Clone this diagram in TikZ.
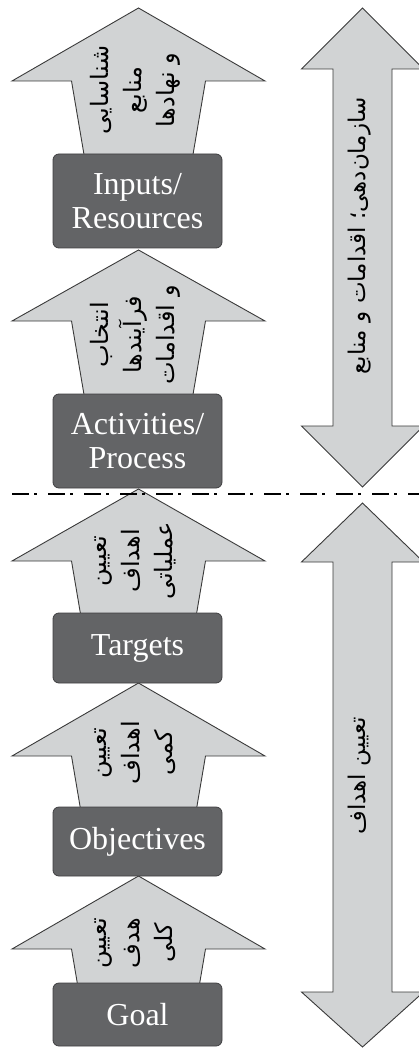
\documentclass[tikz,border=0pt]{standalone}
\usepackage{fontspec}
\setmainfont{Liberation Serif}
\newfontfamily\arabicfont[Script=Arabic]{DejaVu Sans}
\TeXXeTstate=1
\definecolor{arrowfill}{HTML}{D1D3D4}
\definecolor{arrowline}{HTML}{3A3A3A}
\definecolor{boxfill}{HTML}{636466}
\definecolor{boxline}{HTML}{3F3F41}
% one right-to-left line of Persian text
\newcommand\faline[1]{\beginR #1\endR}
% upward block arrow of the left column: tip y, head base y, shaft bottom y
\newcommand\upblock[3]{%
  \pgfmathsetmacro\shafthw{67-0.17*(#3-#2)}%
  \draw[bigarrow] (138.5,#1) -- (265,#2) -- (205.5,#2) -- ({138.5+\shafthw},#3)
    -- ({138.5-\shafthw},#3) -- (71.5,#2) -- (12,#2) -- cycle;}
% double-headed block arrow of the right column: top tip, top base, bottom base, bottom tip
\newcommand\updownblock[4]{%
  \draw[bigarrow] (362.5,#1) -- (423.5,#2) -- (392,#2) -- (392,#3) -- (423.5,#3)
    -- (362.5,#4) -- (301.5,#3) -- (333,#3) -- (333,#2) -- (301.5,#2) -- cycle;}
\begin{document}
\begin{tikzpicture}[x=1pt,y=-1pt,
  stepbox/.style={draw=boxline, fill=boxfill, rounded corners=6pt, line width=0.8pt,
    minimum width=169pt, inner sep=0pt, text=white,
    font=\fontsize{32}{34}\selectfont, align=center},
  bigarrow/.style={draw=arrowline, fill=arrowfill, line width=0.9pt, line join=miter},
  falabel/.style={rotate=90, align=center, inner sep=0pt,
    font=\arabicfont\fontsize{24}{33}\selectfont},
  sidelabel/.style={rotate=90, inner sep=0pt,
    font=\arabicfont\fontsize{23}{28}\selectfont},
  divider/.style={line width=2.5pt, dash pattern=on 17pt off 5pt on 3pt off 11pt}]
\useasboundingbox (0,0) rectangle (419,1048);

% left column arrows (drawn first, boxes sit on their shafts)
\upblock{8}{81}{158}
\upblock{250}{321}{398}
\upblock{489}{561}{617}
\upblock{683}{756}{811}
\upblock{876}{949}{987}

% right column arrows
\updownblock{8}{69}{426}{487}
\updownblock{503}{562}{992}{1047}

% stage boxes
\node[stepbox, minimum height=94pt] (inputs) at (137.5,201) {Inputs/\\Resources};
\node[stepbox, minimum height=94pt] (activities) at (137.5,441) {Activities/\\Process};
\node[stepbox, minimum height=70pt] (targets) at (137.5,648) {Targets};
\node[stepbox, minimum height=69pt] (objectives) at (137.5,841.5) {Objectives};
\node[stepbox, minimum height=63pt] (goal) at (137.5,1014.5) {Goal};

% labels inside the arrows
\node[falabel] (l1) at (135,90) {\faline{شناسایی}\\\faline{منابع}\\\faline{و نهادها}};
\node[falabel] (l2) at (135,335) {\faline{انتخاب}\\\faline{فرآیندها}\\\faline{و اقدامات}};
\node[falabel] (l3) at (135,561) {\faline{تعیین}\\\faline{اهداف}\\\faline{عملیاتی}};
\node[falabel] (l4) at (135,753) {\faline{تعیین}\\\faline{اهداف}\\\faline{کمی}};
\node[falabel] (l5) at (135,943) {\faline{تعیین}\\\faline{هدف}\\\faline{کلی}};
\node[sidelabel] (r1) at (360,236) {\faline{سازمان‌دهی؛ اقدامات و منابع}};
\node[sidelabel] (r2) at (360,776) {\faline{تعیین اهداف}};

% dividing line between the two phases
\coordinate (dl) at (12,494);
\coordinate (dr) at (419,494);
\draw[divider] (dl) -- (dr);
\end{tikzpicture}
\end{document}
